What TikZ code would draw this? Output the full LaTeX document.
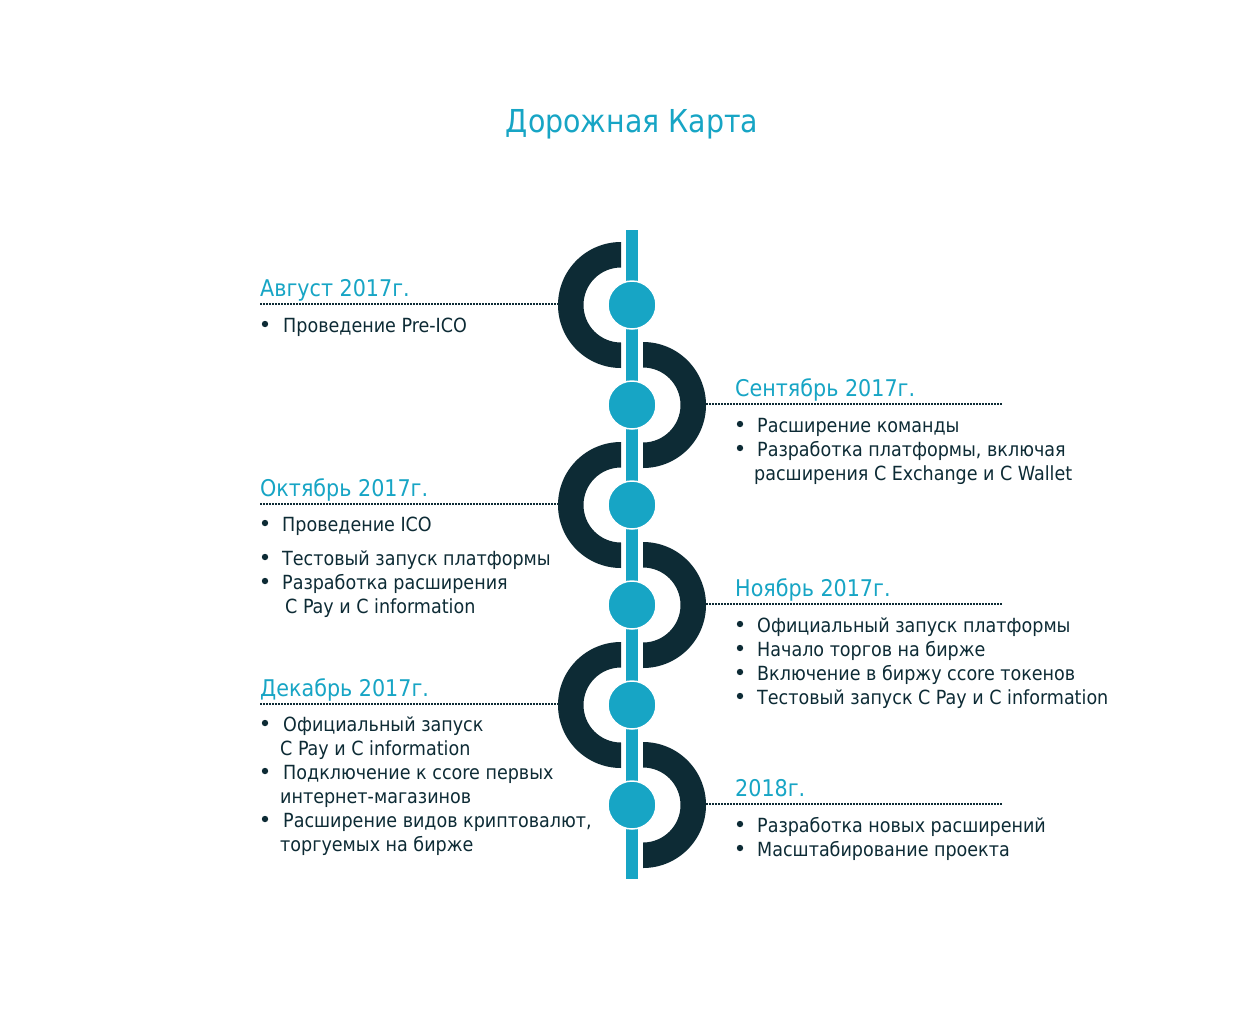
\documentclass[tikz,border=0pt]{standalone}
\usepackage{fontspec}
\setmainfont{DejaVu Sans Condensed}
\definecolor{rmteal}{HTML}{17A5C5}
\definecolor{rmdark}{HTML}{0D2B35}
\tikzset{
  ttl/.style={anchor=base,inner sep=0,text=rmteal,font=\fontsize{31.6}{40}\selectfont},
  sec/.style={anchor=base west,inner sep=0,text=rmteal,font=\fontsize{23}{27}\selectfont},
  txt/.style={anchor=base west,inner sep=0,text=rmdark,font=\fontsize{19.5}{24}\selectfont},
  bul/.style={circle,inner sep=0,minimum size=6.4pt,fill=rmdark,yshift=8pt},
  dot/.style={circle,inner sep=0,minimum size=48pt,fill=rmteal,draw=white,line width=1.5pt},
  ring/.style={fill=rmdark},
  lead/.style={draw=rmdark,line width=2pt,dash pattern=on 1.5pt off 1.5pt},
}
\begin{document}
\begin{tikzpicture}[x=1pt,y=-1pt]
\useasboundingbox (0,0) rectangle (1250,1015);
\fill[white] (0,0) rectangle (1250,1015);

\node[ttl] (title) at (632,132) {Дорожная Карта};

% rings
\foreach \yy in {305,505,705}{
  \fill[ring] (621,\yy-63) arc[start angle=90,end angle=270,radius=63pt]
    -- (621,\yy+37.5) arc[start angle=270,end angle=90,radius=37.5pt] -- cycle;
}
\foreach \yy in {405,605,805}{
  \fill[ring] (643,\yy-63) arc[start angle=90,end angle=-90,radius=63pt]
    -- (643,\yy+37.5) arc[start angle=-90,end angle=90,radius=37.5pt] -- cycle;
}
% spine
\fill[rmteal] (626,230) rectangle (638,879);
% circles
\node[dot] (c1) at (632,305) {};
\node[dot] (c2) at (632,405) {};
\node[dot] (c3) at (632,505) {};
\node[dot] (c4) at (632,605) {};
\node[dot] (c5) at (632,705) {};
\node[dot] (c6) at (632,805) {};

% leader lines
\coordinate (l1a) at (260,304); \coordinate (l1b) at (558,304);
\coordinate (l2a) at (706,404); \coordinate (l2b) at (1003,404);
\coordinate (l3a) at (260,504); \coordinate (l3b) at (558,504);
\coordinate (l4a) at (706,604); \coordinate (l4b) at (1003,604);
\coordinate (l5a) at (260,704); \coordinate (l5b) at (558,704);
\coordinate (l6a) at (706,804); \coordinate (l6b) at (1003,804);
\draw[lead] (l1a) -- (l1b);
\draw[lead] (l2a) -- (l2b);
\draw[lead] (l3a) -- (l3b);
\draw[lead] (l4a) -- (l4b);
\draw[lead] (l5a) -- (l5b);
\draw[lead] (l6a) -- (l6b);

% August
\node[sec] (s1) at (260,296) {Август 2017г.};
\node[bul] (b11) at (265,332) {};
\node[txt] (t11) at (283,332) {Проведение Pre-ICO};

% September
\node[sec] (s2) at (735,396) {Сентябрь 2017г.};
\node[bul] (b21) at (740,432) {};
\node[txt] (t21) at (757,432) {Расширение команды};
\node[bul] (b22) at (740,456) {};
\node[txt] (t22) at (757,456) {Разработка платформы, включая};
\node[txt] (t23) at (754,480) {расширения C Exchange и C Wallet};

% October
\node[sec] (s3) at (260,496) {Октябрь 2017г.};
\node[bul] (b31) at (265,531) {};
\node[txt] (t31) at (282,531) {Проведение ICO};
\node[bul] (b32) at (265,565) {};
\node[txt] (t32) at (282,565) {Тестовый запуск платформы};
\node[bul] (b33) at (265,589) {};
\node[txt] (t33) at (282,589) {Разработка расширения};
\node[txt] (t34) at (285,613) {C Pay и C information};

% November
\node[sec] (s4) at (735,596) {Ноябрь 2017г.};
\node[bul] (b41) at (740,632) {};
\node[txt] (t41) at (757,632) {Официальный запуск платформы};
\node[bul] (b42) at (740,656) {};
\node[txt] (t42) at (757,656) {Начало торгов на бирже};
\node[bul] (b43) at (740,680) {};
\node[txt] (t43) at (757,680) {Включение в биржу ccore токенов};
\node[bul] (b44) at (740,704) {};
\node[txt] (t44) at (757,704) {Тестовый запуск C Pay и C information};

% December
\node[sec] (s5) at (260,696) {Декабрь 2017г.};
\node[bul] (b51) at (265,731) {};
\node[txt] (t51) at (283,731) {Официальный запуск};
\node[txt] (t52) at (280,755) {C Pay и C information};
\node[bul] (b53) at (265,779) {};
\node[txt] (t53) at (283,779) {Подключение к ccore первых};
\node[txt] (t54) at (280,803) {интернет-магазинов};
\node[bul] (b55) at (265,827) {};
\node[txt] (t55) at (283,827) {Расширение видов криптовалют,};
\node[txt] (t56) at (280,851) {торгуемых на бирже};

% 2018
\node[sec] (s6) at (735,796) {2018г.};
\node[bul] (b61) at (740,832) {};
\node[txt] (t61) at (757,832) {Разработка новых расширений};
\node[bul] (b62) at (740,856) {};
\node[txt] (t62) at (757,856) {Масштабирование проекта};
\end{tikzpicture}
\end{document}
